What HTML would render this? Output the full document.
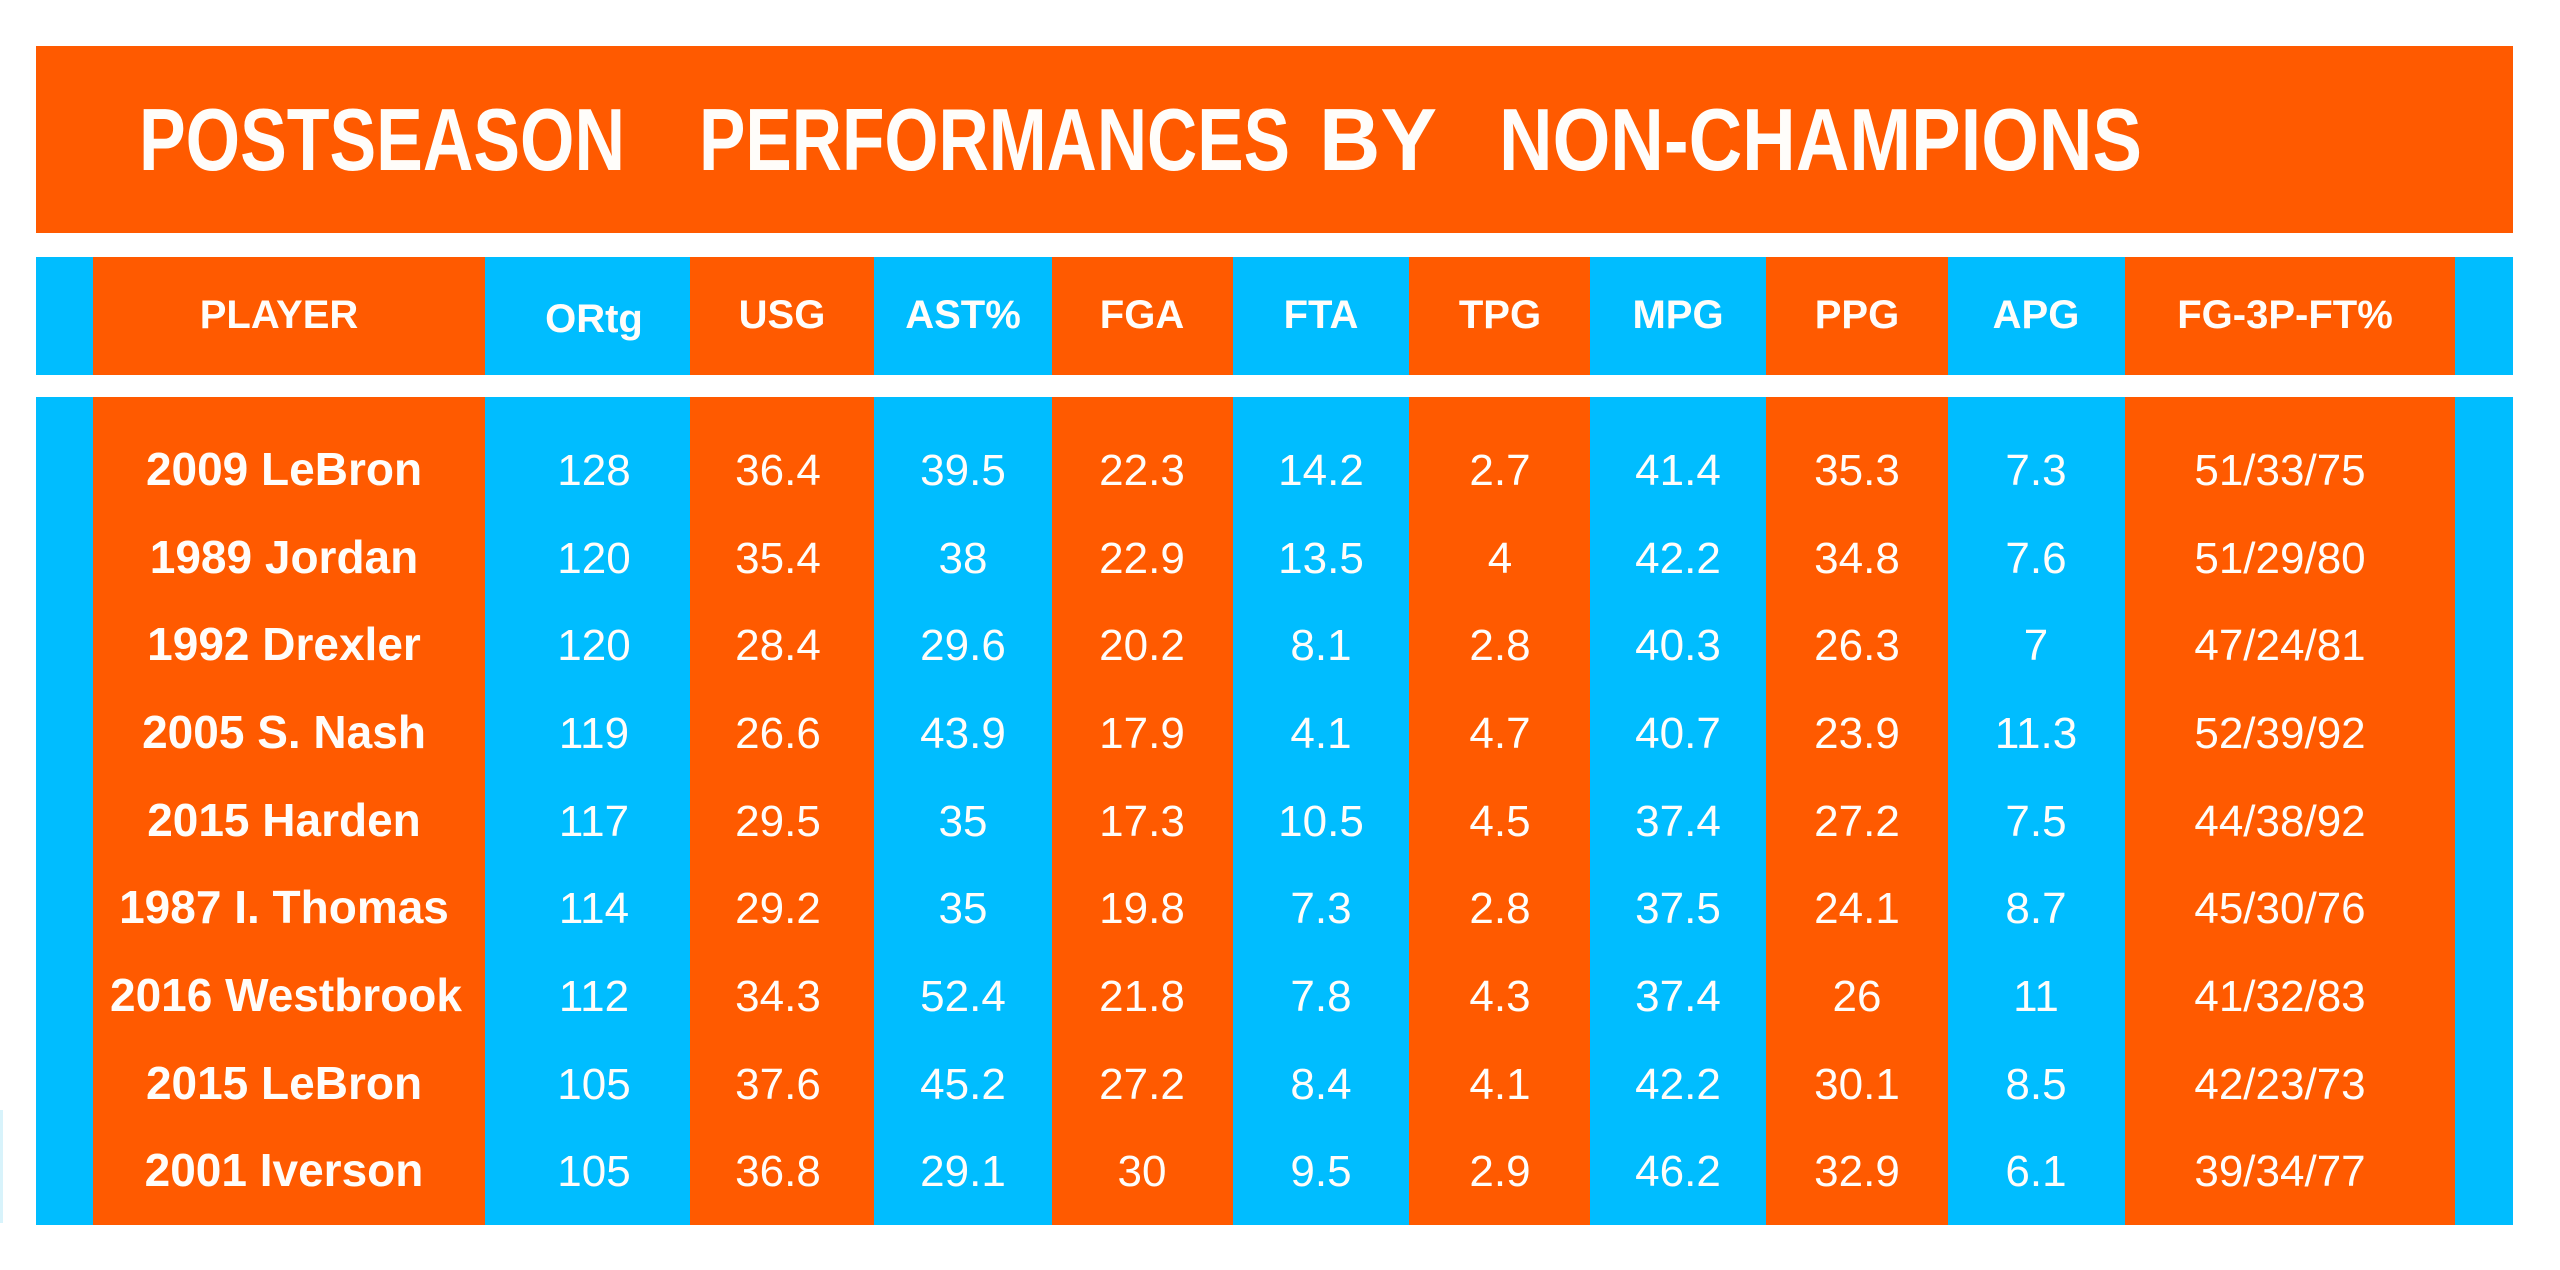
<!DOCTYPE html>
<html>
<head>
<meta charset="utf-8">
<style>
  html,body{margin:0;padding:0;background:#ffffff;}
  svg{display:block;}
  .t{font-family:"Liberation Sans",sans-serif;font-weight:bold;fill:#fffdfa;}
  .h{font-family:"Liberation Sans",sans-serif;font-weight:bold;font-size:40px;fill:#fffdfa;text-anchor:middle;}
  .p{font-family:"Liberation Sans",sans-serif;font-weight:bold;font-size:46px;fill:#fffdfa;text-anchor:middle;}
  .n{font-family:"Liberation Sans",sans-serif;font-size:44px;fill:#fffdfa;text-anchor:middle;}
</style>
</head>
<body>
<svg width="2560" height="1270" viewBox="0 0 2560 1270" xmlns="http://www.w3.org/2000/svg">
  <rect x="0" y="0" width="2560" height="1270" fill="#ffffff"/>
  <!-- faint stray line at left -->
  <rect x="0" y="1110" width="3" height="113" fill="#d8f3fb"/>

  <!-- Title bar -->
  <rect x="36" y="46" width="2477" height="187" fill="#ff5a00"/>
  <text class="t" x="139" y="170" font-size="88" textLength="486" lengthAdjust="spacingAndGlyphs">POSTSEASON</text>
  <text class="t" x="699" y="170" font-size="88" textLength="591" lengthAdjust="spacingAndGlyphs">PERFORMANCES</text>
  <text class="t" x="1319" y="170" font-size="88" textLength="118" lengthAdjust="spacingAndGlyphs">BY</text>
  <text class="t" x="1499" y="170" font-size="88" textLength="643" lengthAdjust="spacingAndGlyphs">NON-CHAMPIONS</text>

  <!-- Header band -->
  <rect x="36" y="257" width="2477" height="118" fill="#00bdff"/>
  <rect x="93" y="257" width="392" height="118" fill="#ff5a00"/>
  <rect x="690" y="257" width="184" height="118" fill="#ff5a00"/>
  <rect x="1052" y="257" width="181" height="118" fill="#ff5a00"/>
  <rect x="1409" y="257" width="181" height="118" fill="#ff5a00"/>
  <rect x="1766" y="257" width="182" height="118" fill="#ff5a00"/>
  <rect x="2125" y="257" width="330" height="118" fill="#ff5a00"/>

  <!-- Body band -->
  <rect x="36" y="397" width="2477" height="828" fill="#00bdff"/>
  <rect x="93" y="397" width="392" height="828" fill="#ff5a00"/>
  <rect x="690" y="397" width="184" height="828" fill="#ff5a00"/>
  <rect x="1052" y="397" width="181" height="828" fill="#ff5a00"/>
  <rect x="1409" y="397" width="181" height="828" fill="#ff5a00"/>
  <rect x="1766" y="397" width="182" height="828" fill="#ff5a00"/>
  <rect x="2125" y="397" width="330" height="828" fill="#ff5a00"/>

  <!-- Header text -->
  <text class="h" x="279" y="328">PLAYER</text>
  <text class="h" x="594" y="332" font-size="45">ORtg</text>
  <text class="h" x="782" y="328">USG</text>
  <text class="h" x="963" y="328">AST%</text>
  <text class="h" x="1142" y="328">FGA</text>
  <text class="h" x="1321" y="328">FTA</text>
  <text class="h" x="1500" y="328">TPG</text>
  <text class="h" x="1678" y="328">MPG</text>
  <text class="h" x="1857" y="328">PPG</text>
  <text class="h" x="2036" y="328">APG</text>
  <text class="h" x="2285" y="328">FG-3P-FT%</text>

  <!-- Rows -->
  <g>
    <text class="p" x="284" y="485">2009 LeBron</text>
    <text class="n" x="594" y="485">128</text>
    <text class="n" x="778" y="485">36.4</text>
    <text class="n" x="963" y="485">39.5</text>
    <text class="n" x="1142" y="485">22.3</text>
    <text class="n" x="1321" y="485">14.2</text>
    <text class="n" x="1500" y="485">2.7</text>
    <text class="n" x="1678" y="485">41.4</text>
    <text class="n" x="1857" y="485">35.3</text>
    <text class="n" x="2036" y="485">7.3</text>
    <text class="n" x="2280" y="485">51/33/75</text>
  </g>
  <g>
    <text class="p" x="284" y="573">1989 Jordan</text>
    <text class="n" x="594" y="573">120</text>
    <text class="n" x="778" y="573">35.4</text>
    <text class="n" x="963" y="573">38</text>
    <text class="n" x="1142" y="573">22.9</text>
    <text class="n" x="1321" y="573">13.5</text>
    <text class="n" x="1500" y="573">4</text>
    <text class="n" x="1678" y="573">42.2</text>
    <text class="n" x="1857" y="573">34.8</text>
    <text class="n" x="2036" y="573">7.6</text>
    <text class="n" x="2280" y="573">51/29/80</text>
  </g>
  <g>
    <text class="p" x="284" y="660">1992 Drexler</text>
    <text class="n" x="594" y="660">120</text>
    <text class="n" x="778" y="660">28.4</text>
    <text class="n" x="963" y="660">29.6</text>
    <text class="n" x="1142" y="660">20.2</text>
    <text class="n" x="1321" y="660">8.1</text>
    <text class="n" x="1500" y="660">2.8</text>
    <text class="n" x="1678" y="660">40.3</text>
    <text class="n" x="1857" y="660">26.3</text>
    <text class="n" x="2036" y="660">7</text>
    <text class="n" x="2280" y="660">47/24/81</text>
  </g>
  <g>
    <text class="p" x="284" y="748">2005 S. Nash</text>
    <text class="n" x="594" y="748">119</text>
    <text class="n" x="778" y="748">26.6</text>
    <text class="n" x="963" y="748">43.9</text>
    <text class="n" x="1142" y="748">17.9</text>
    <text class="n" x="1321" y="748">4.1</text>
    <text class="n" x="1500" y="748">4.7</text>
    <text class="n" x="1678" y="748">40.7</text>
    <text class="n" x="1857" y="748">23.9</text>
    <text class="n" x="2036" y="748">11.3</text>
    <text class="n" x="2280" y="748">52/39/92</text>
  </g>
  <g>
    <text class="p" x="284" y="836">2015 Harden</text>
    <text class="n" x="594" y="836">117</text>
    <text class="n" x="778" y="836">29.5</text>
    <text class="n" x="963" y="836">35</text>
    <text class="n" x="1142" y="836">17.3</text>
    <text class="n" x="1321" y="836">10.5</text>
    <text class="n" x="1500" y="836">4.5</text>
    <text class="n" x="1678" y="836">37.4</text>
    <text class="n" x="1857" y="836">27.2</text>
    <text class="n" x="2036" y="836">7.5</text>
    <text class="n" x="2280" y="836">44/38/92</text>
  </g>
  <g>
    <text class="p" x="284" y="923">1987 I. Thomas</text>
    <text class="n" x="594" y="923">114</text>
    <text class="n" x="778" y="923">29.2</text>
    <text class="n" x="963" y="923">35</text>
    <text class="n" x="1142" y="923">19.8</text>
    <text class="n" x="1321" y="923">7.3</text>
    <text class="n" x="1500" y="923">2.8</text>
    <text class="n" x="1678" y="923">37.5</text>
    <text class="n" x="1857" y="923">24.1</text>
    <text class="n" x="2036" y="923">8.7</text>
    <text class="n" x="2280" y="923">45/30/76</text>
  </g>
  <g>
    <text class="p" x="286" y="1011">2016 Westbrook</text>
    <text class="n" x="594" y="1011">112</text>
    <text class="n" x="778" y="1011">34.3</text>
    <text class="n" x="963" y="1011">52.4</text>
    <text class="n" x="1142" y="1011">21.8</text>
    <text class="n" x="1321" y="1011">7.8</text>
    <text class="n" x="1500" y="1011">4.3</text>
    <text class="n" x="1678" y="1011">37.4</text>
    <text class="n" x="1857" y="1011">26</text>
    <text class="n" x="2036" y="1011">11</text>
    <text class="n" x="2280" y="1011">41/32/83</text>
  </g>
  <g>
    <text class="p" x="284" y="1099">2015 LeBron</text>
    <text class="n" x="594" y="1099">105</text>
    <text class="n" x="778" y="1099">37.6</text>
    <text class="n" x="963" y="1099">45.2</text>
    <text class="n" x="1142" y="1099">27.2</text>
    <text class="n" x="1321" y="1099">8.4</text>
    <text class="n" x="1500" y="1099">4.1</text>
    <text class="n" x="1678" y="1099">42.2</text>
    <text class="n" x="1857" y="1099">30.1</text>
    <text class="n" x="2036" y="1099">8.5</text>
    <text class="n" x="2280" y="1099">42/23/73</text>
  </g>
  <g>
    <text class="p" x="284" y="1186">2001 Iverson</text>
    <text class="n" x="594" y="1186">105</text>
    <text class="n" x="778" y="1186">36.8</text>
    <text class="n" x="963" y="1186">29.1</text>
    <text class="n" x="1142" y="1186">30</text>
    <text class="n" x="1321" y="1186">9.5</text>
    <text class="n" x="1500" y="1186">2.9</text>
    <text class="n" x="1678" y="1186">46.2</text>
    <text class="n" x="1857" y="1186">32.9</text>
    <text class="n" x="2036" y="1186">6.1</text>
    <text class="n" x="2280" y="1186">39/34/77</text>
  </g>
</svg>
</body>
</html>
